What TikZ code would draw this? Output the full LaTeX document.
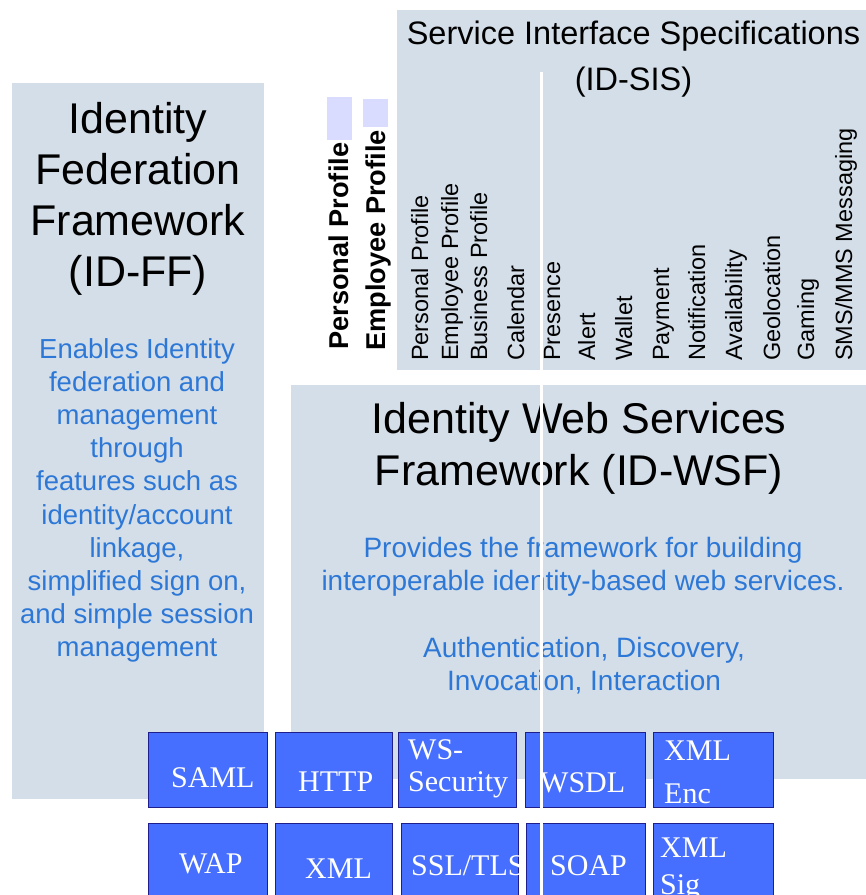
\documentclass[tikz,border=0pt]{standalone}
\usepackage{fontspec}
\setmainfont{Liberation Sans}
\newfontfamily\boxfont{Liberation Serif}
\definecolor{panel}{RGB}{212,222,232}
\definecolor{lav}{RGB}{218,220,255}
\definecolor{bluetxt}{RGB}{45,120,215}
\definecolor{boxfill}{RGB}{70,110,255}
\definecolor{boxline}{RGB}{30,30,140}
\begin{document}
\begin{tikzpicture}[x=1pt,y=-1pt,
  panelbox/.style={fill=panel,draw=none},
  lavstrip/.style={fill=lav,draw=none},
  bigtitle/.style={inner sep=0pt,anchor=base,font=\fontsize{43}{52}\selectfont,text=black},
  sistitle/.style={inner sep=0pt,anchor=base,font=\fontsize{32.5}{46}\selectfont,text=black},
  ffdesc/.style={inner sep=0pt,anchor=base,font=\fontsize{27.5}{33}\selectfont,text=bluetxt},
  wsfdesc/.style={inner sep=0pt,anchor=base,font=\fontsize{28}{33}\selectfont,text=bluetxt},
  sislabel/.style={inner sep=0pt,anchor=base west,rotate=90,font=\fontsize{23.5}{28}\selectfont,text=black},
  proflabel/.style={inner sep=0pt,anchor=base west,rotate=90,font=\fontsize{27.2}{32}\selectfont\bfseries,text=black},
  techbox/.style={fill=boxfill,draw=boxline,line width=1.2pt,anchor=north west,inner sep=0pt,minimum width=#1,minimum height=75pt},
  techbox2/.style={fill=boxfill,draw=boxline,line width=1.2pt,anchor=north west,inner sep=0pt,minimum width=#1,minimum height=85pt},
  techtxt/.style={inner sep=0pt,anchor=base west,font=\boxfont\fontsize{30}{34}\selectfont,text=white},
  divider/.style={draw=white,line width=3pt}
]
\useasboundingbox (0,0) rectangle (866,895);

% panels
\path[panelbox] (12,83) rectangle (264,799);
\path[panelbox] (397,10) rectangle (866,370);
\path[panelbox] (291,385) rectangle (866,779);
\path[lavstrip] (327,97) rectangle (352,140);
\path[lavstrip] (363,99) rectangle (388,127);

% ID-FF
\node[bigtitle] (ff1) at (138,133) {Identity};
\node[bigtitle] (ff2) at (138,184) {Federation};
\node[bigtitle] (ff3) at (138,235) {Framework};
\node[bigtitle] (ff4) at (138,286) {(ID-FF)};
\foreach \t [count=\i] in {Enables Identity,federation and,management,through,features such as,identity/account,{linkage,},{simplified sign on,},and simple session,management}
  \node[ffdesc] (ffd\i) at (137,{358+33.2*(\i-1)}) {\t};

% ID-SIS
\node[sistitle] (sis1) at (633.5,44) {Service Interface Specifications};
\node[sistitle] (sis2) at (633.5,90) {(ID-SIS)};
\foreach \t/\x [count=\i] in {Personal Profile/428,Employee Profile/458,Business Profile/487,Calendar/524,Presence/560,Alert/595,Wallet/632,Payment/669,Notification/705,Availability/742,Geolocation/780,Gaming/814,{SMS/MMS Messaging}/852}
  \node[sislabel] (sisl\i) at (\x,361) {\t};

\node[proflabel] (pp) at (348,350) {Personal Profile};
\node[proflabel] (ep) at (385,351) {Employee Profile};

% ID-WSF
\node[bigtitle] (wsf1) at (579,433) {Identity Web Services};
\node[bigtitle] (wsf2) at (579,485) {Framework (ID-WSF)};
\node[wsfdesc] (wsfd1) at (583,557) {Provides the framework for building};
\node[wsfdesc] (wsfd2) at (583,590) {interoperable identity-based web services.};
\node[wsfdesc] (wsfd3) at (584,657) {Authentication, Discovery,};
\node[wsfdesc] (wsfd4) at (584,690) {Invocation, Interaction};

% technology boxes, row 1
\node[techbox=119pt] (saml) at (148,732) {};
\node[techbox=117pt] (http) at (275,732) {};
\node[techbox=118pt] (wssec) at (398,732) {};
\node[techbox=120pt] (wsdl) at (525,732) {};
\node[techbox=120pt] (xmlenc) at (653,732) {};
% row 2
\node[techbox2=119pt] (wap) at (148,823) {};
\node[techbox2=117pt] (xml) at (275,823) {};
\node[techbox2=117pt] (ssl) at (401,823) {};
\node[techbox2=119pt] (soap) at (526,823) {};
\node[techbox2=120pt] (xmlsig) at (653,823) {};

\node[techtxt] (tsaml) at (171,787) {SAML};
\node[techtxt] (thttp) at (298,791) {HTTP};
\node[techtxt] (tws1) at (408,759) {WS-};
\node[techtxt] (tws2) at (408,791) {Security};
\node[techtxt] (twsdl) at (540,792) {WSDL};
\node[techtxt] (tenc1) at (664,760) {XML};
\node[techtxt] (tenc2) at (664,803) {Enc};
\node[techtxt] (twap) at (179,873) {WAP};
\node[techtxt] (txml) at (305,878) {XML};
\node[techtxt] (tssl) at (411,875) {SSL/TLS};
\node[techtxt] (tsoap) at (550,875) {SOAP};
\node[techtxt] (tsig1) at (660,857) {XML};
\node[techtxt] (tsig2) at (660,894) {Sig};

% white divider line
\coordinate (divtop) at (541.5,72);
\coordinate (divbot) at (541.5,895);
\draw[divider] (divtop) -- (divbot);
\end{tikzpicture}
\end{document}
